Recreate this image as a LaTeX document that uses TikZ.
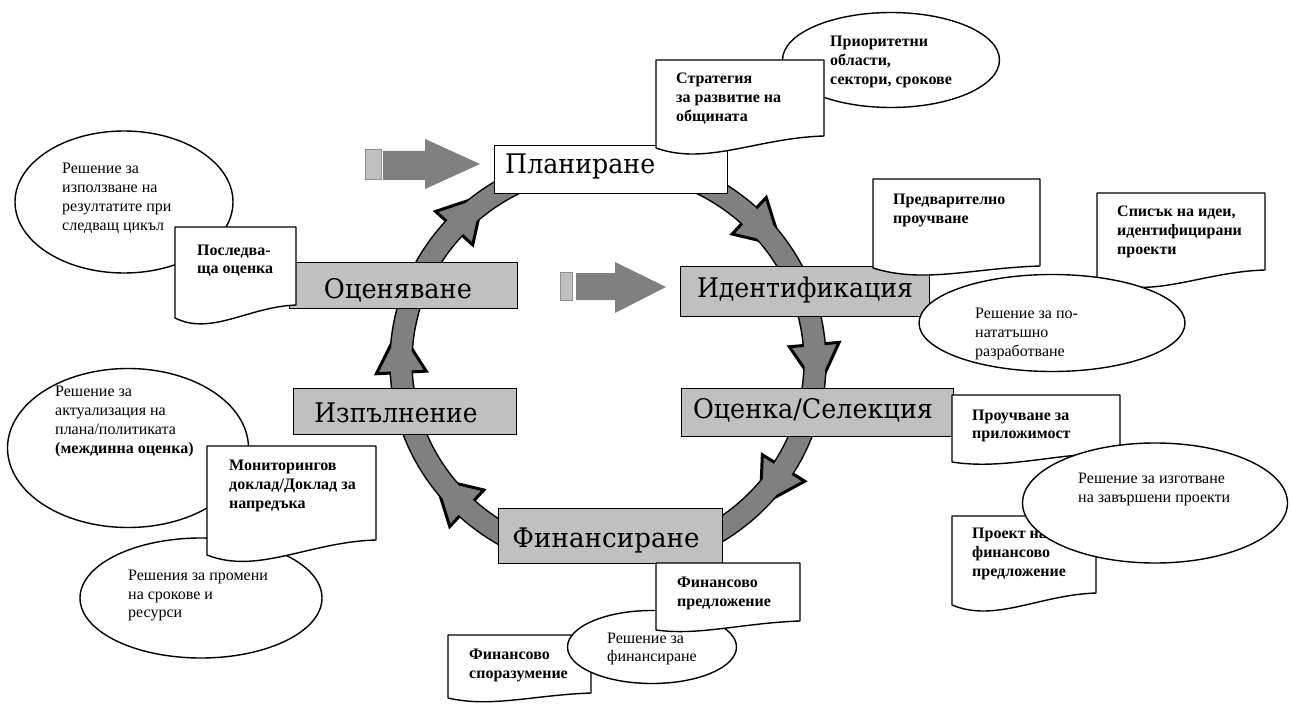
\documentclass[tikz,border=0pt]{standalone}
\usepackage{fontspec}
\usepackage{graphicx}
\setmainfont{Liberation Serif}
\newfontfamily\stagefont{DejaVu Serif}
\usetikzlibrary{shapes.geometric}
\definecolor{boxgray}{HTML}{C0C0C0}
\definecolor{ringgray}{HTML}{808080}
\definecolor{edgegray}{HTML}{909090}
% stage label stretched horizontally to a measured width
\newcommand\stg[2]{\resizebox{#1}{\height}{#2}}
% document shape: L T R yRight yLeft dip
\newcommand\docshape[6]{%
  \pgfmathsetmacro\dwA{#1+0.6*(#3-#1)}%
  \pgfmathsetmacro\dwB{#1+0.3*(#3-#1)}%
  \pgfmathsetmacro\dyA{#4+2}%
  \pgfmathsetmacro\dyB{#5+#6}%
  \draw[docline] (#1,#2) -- (#3,#2) -- (#3,#4) .. controls (\dwA,\dyA) and (\dwB,\dyB) .. (#1,#5) -- cycle;
}
\tikzset{
  stagebox/.style={draw=black, line width=1.3pt, fill=boxgray, inner sep=0pt, anchor=north west},
  docline/.style={draw=black, line width=1.4pt, fill=white, line join=round},
  bubble/.style={ellipse, draw=black, line width=1.4pt, fill=white, inner sep=0pt},
  txt/.style={anchor=north west, inner sep=0pt, align=left, font=\fontsize{16}{19}\selectfont},
  btxt/.style={anchor=north west, inner sep=0pt, align=left, font=\bfseries\fontsize{16}{19}\selectfont},
  stagelbl/.style={inner sep=0pt, font=\stagefont\fontsize{27}{27}\selectfont},
  entryrect/.style={draw=edgegray, line width=1pt, fill=boxgray},
  entryarrow/.style={fill=ringgray},
}
\begin{document}
\begin{tikzpicture}[x=1pt,y=-1pt]
\useasboundingbox (0,0) rectangle (1291,706);
\fill[white] (0,0) rectangle (1291,706);

% ---- cycle ring with arrowheads (kept above the bottom of the financing box) ----
\begin{scope}
\clip (0,0) rectangle (1291,562);
\draw[line width=23.5pt, black] (608,362) ellipse [x radius=207pt, y radius=200pt];
\foreach \t in {-47,-5,32,133,177,222}{
  \draw[black, line width=3pt, fill=ringgray, line join=miter]
    ({608+207*cos(\t)+25*cos(\t)},{362+200*sin(\t)+25*sin(\t)})
    -- ({608+207*cos(\t)-44*sin(\t)},{362+200*sin(\t)+44*cos(\t)})
    -- ({608+207*cos(\t)-25*cos(\t)},{362+200*sin(\t)-25*sin(\t)}) -- cycle;
}
\draw[line width=20.5pt, ringgray] (608,362) ellipse [x radius=207pt, y radius=200pt];
\end{scope}

% ---- stage boxes ----
\node[stagebox, fill=white, minimum width=233pt, minimum height=48pt] (plan) at (494,145) {};
\node[stagelbl, anchor=base west] (planL) at (505,174) {\stg{150pt}{Планиране}};
\node[stagebox, minimum width=249pt, minimum height=50pt] (ident) at (680,266) {};
\node[stagelbl, anchor=base] (identL) at (805,297) {\stg{216pt}{Идентификация}};
\node[stagebox, minimum width=272pt, minimum height=48pt] (sel) at (681,388) {};
\node[stagelbl, anchor=base] (selL) at (813,418) {\stg{240pt}{Оценка/Селекция}};
\node[stagebox, minimum width=224pt, minimum height=55pt] (fin) at (498,508) {};
\node[stagelbl, anchor=base] (finL) at (606,547) {\stg{187pt}{Финансиране}};
\node[stagebox, minimum width=223pt, minimum height=46pt] (impl) at (293,388) {};
\node[stagelbl, anchor=base] (implL) at (396,422) {\stg{163pt}{Изпълнение}};
\node[stagebox, minimum width=228pt, minimum height=46pt] (eval) at (289,262) {};
\node[stagelbl, anchor=base] (evalL) at (398,298) {\stg{148pt}{Оценяване}};

% ---- entry arrows ----
\draw[entryrect] (365,150) rectangle (381,180);
\fill[entryarrow] (383,151) -- (425,151) -- (425,139) -- (480,164) -- (425,189) -- (425,180) -- (383,180) -- cycle;
\draw[entryrect] (560,272) rectangle (572,300);
\fill[entryarrow] (576,273) -- (615,273) -- (615,262) -- (666,287) -- (615,313) -- (615,300) -- (576,300) -- cycle;

% ---- top: strategy ----
\node[bubble, minimum width=217pt, minimum height=95pt] (eprio) at (891,60) {};
\node[btxt] (eprioT) at (830,36) {Приоритетни\\области,\\сектори, срокове};
\docshape{656}{60}{824}{136}{148}{18}
\node[btxt] (stratT) at (676,73) {Стратегия\\за развитие на\\общината};

% ---- identification documents ----
\docshape{873}{179}{1040}{266}{268}{16}
\node[btxt] (prelimT) at (893,194) {Предварително\\проучване};
\docshape{1097}{193}{1265}{270}{277}{26}
\node[btxt] (listT) at (1117,206) {Списък на идеи,\\идентифицирани\\проекти};
\node[bubble, minimum width=266pt, minimum height=97pt] (enext) at (1052,323) {};
\node[txt] (enextT) at (975,308) {Решение за по-\\нататъшно\\разработване};

% ---- evaluation ----
\node[bubble, minimum width=218pt, minimum height=142pt] (euse) at (124,202) {};
\node[txt] (euseT) at (62,163) {Решение за\\използване на\\резултатите при\\следващ цикъл};
\docshape{175}{227}{296}{305}{318}{18}
\node[btxt, font=\bfseries\fontsize{16}{17.5}\selectfont] (followT) at (197,245) {Последва-\\ща оценка};

% ---- implementation ----
\node[bubble, minimum width=241pt, minimum height=159pt] (eact) at (128,448) {};
\node[txt] (eactT) at (55,386) {Решение за\\актуализация на\\плана/политиката\\\textbf{(междинна оценка)}};
\node[bubble, minimum width=242pt, minimum height=120pt] (echg) at (201,598) {};
\node[txt, font=\fontsize{16}{18.5}\selectfont] (echgT) at (128,570) {Решения за промени\\на срокове и\\ресурси};
\docshape{207}{446}{376}{540}{555}{20}
\node[btxt] (monitT) at (229,460) {Мониторингов\\доклад/Доклад за\\напредъка};

% ---- selection ----
\docshape{952}{395}{1120}{452}{462}{8}
\node[btxt, font=\bfseries\fontsize{16}{18}\selectfont] (studyT) at (972,410) {Проучване за\\приложимост};
\docshape{952}{516}{1096}{593}{605}{18}
\node[btxt] (projT) at (972,528) {Проект на\\финансово\\предложение};
\node[bubble, minimum width=265pt, minimum height=120pt] (eprep) at (1155,503) {};
\node[txt] (eprepT) at (1078,473) {Решение за изготване\\на завършени проекти};

% ---- financing ----
\docshape{448}{635}{591}{693}{698}{10}
\node[btxt] (agreeT) at (469,649) {Финансово\\споразумение};
\node[bubble, minimum width=169pt, minimum height=73pt] (efin) at (652,647) {};
\docshape{656}{563}{800}{621}{630}{6}
\node[btxt] (finpropT) at (677,577) {Финансово\\предложение};
\node[txt, font=\fontsize{16}{18}\selectfont] (efinT) at (607,633) {Решение за\\финансиране};
\end{tikzpicture}
\end{document}
